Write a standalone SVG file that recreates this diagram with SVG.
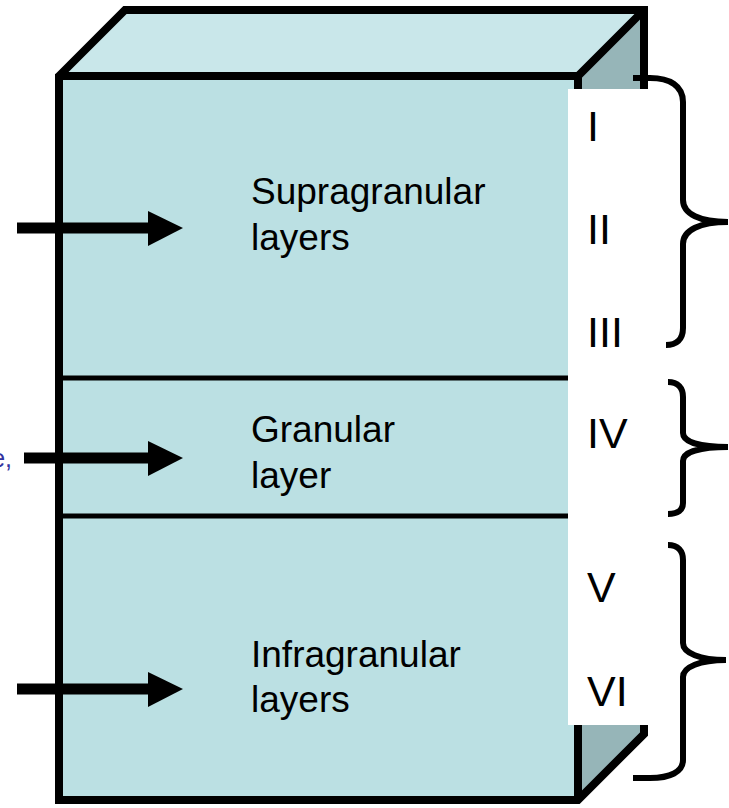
<svg xmlns="http://www.w3.org/2000/svg" width="729" height="808" viewBox="0 0 729 808">
  <style>
    .edge { fill: none; stroke: #000; stroke-width: 8; stroke-linejoin: miter; }
    .divider { stroke: #000; stroke-width: 5; }
    .label { font-family: "Liberation Sans", Arial, sans-serif; font-size: 37px; fill: #000; }
    .roman { font-family: "Liberation Sans", Arial, sans-serif; font-size: 43px; fill: #000; }
    .brace { fill: none; stroke: #000; stroke-width: 6; stroke-linecap: butt; }
    .shaft { stroke: #000; stroke-width: 11; }
  </style>

  <!-- cortical slab drawn as a 3D block -->
  <g id="block">
    <polygon points="59,76 125,10 644,10 578,76" fill="#c9e7ea"/>
    <polygon points="578,76 644,10 644,734 578,800" fill="#96b5b8"/>
    <rect x="59" y="76" width="519" height="724" fill="#bbe0e3"/>
    <path class="edge" d="M59,76 L125,10 L644,10 L644,734 L578,800 L59,800 Z M59,76 L578,76 L644,10 M578,76 L578,800"/>
    <line class="divider" x1="59" y1="378" x2="578" y2="378"/>
    <line class="divider" x1="59" y1="516" x2="578" y2="516"/>
  </g>

  <!-- inputs entering each layer group -->
  <g id="connectors">
    <line class="shaft" x1="17" y1="228" x2="150" y2="228"/>
    <polygon points="148,211 183,228 148,246"/>
    <line class="shaft" x1="24" y1="458" x2="150" y2="458"/>
    <polygon points="148,441 183,458 148,476"/>
    <line class="shaft" x1="17" y1="689" x2="150" y2="689"/>
    <polygon points="148,672 183,689 148,707"/>
  </g>

  <g id="source-label">
    <text x="12" y="467" text-anchor="end" font-family="Liberation Sans, Arial, sans-serif" font-size="25" fill="#3333a0">e,</text>
  </g>

  <g id="supragranular">
    <text class="label" x="251" y="204">Supragranular</text>
    <text class="label" x="251" y="250">layers</text>
  </g>
  <g id="granular">
    <text class="label" x="251" y="442">Granular</text>
    <text class="label" x="251" y="488">layer</text>
  </g>
  <g id="infragranular">
    <text class="label" x="251" y="667">Infragranular</text>
    <text class="label" x="251" y="712">layers</text>
  </g>

  <!-- layer numbering panel -->
  <g id="layer-numbers">
    <rect x="568" y="89" width="92" height="636" fill="#fff"/>
    <text class="roman" x="587" y="141">I</text>
    <text class="roman" x="587" y="244">II</text>
    <text class="roman" x="587" y="347">III</text>
    <text class="roman" x="587" y="448">IV</text>
    <text class="roman" x="587" y="602">V</text>
    <text class="roman" x="587" y="706">VI</text>
  </g>

  <!-- grouping braces -->
  <g id="braces">
    <path class="brace" d="M633,78 L650,78 C670,78 683,86 683,102 L683,200 C683,214 700,222 728,222 C700,222 683,230 683,244 L683,328 C683,340 676,345 666,345"/>
    <path class="brace" d="M668,382 C678,382 683,388 683,397 L683,433 C683,442 700,447 728,447 C700,447 683,452 683,461 L683,503 C683,510 678,514 668,514"/>
    <path class="brace" d="M668,545 C678,545 683,551 683,560 L683,643 C683,653 700,660 726,660 C700,660 683,667 683,677 L683,760 C683,772 670,778 650,778 L633,778"/>
  </g>
</svg>
